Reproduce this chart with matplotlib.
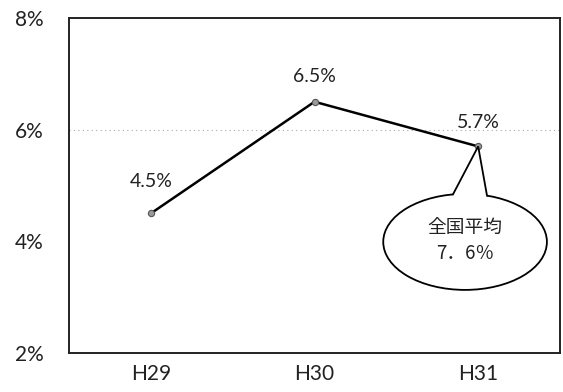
import numpy as np
import matplotlib
matplotlib.use('Agg')
import matplotlib.pyplot as plt
from matplotlib.patches import Ellipse, Polygon

plt.rcParams['font.family'] = ['Lato', 'DejaVu Sans']

years = ['H29', 'H30', 'H31']
rates = [4.5, 6.5, 5.7]
rate_labels = ['4.5%', '6.5%', '5.7%']
yticks = [2, 4, 6, 8]
national_avg_text = '全国平均\n7．6％'

fig = plt.figure(figsize=(5.63, 3.92), dpi=100)
ax = fig.add_axes([69 / 563, 39 / 392, 491 / 563, 335 / 392])

x = list(range(len(years)))
ax.plot(x, rates, color='black', lw=1.8, zorder=3,
        marker='o', ms=4.5, mfc='#9a9a9a', mec='#555555', mew=0.8)

# only the 6% grid line is visible in the original
ax.axhline(6, color='#a8a8a8', lw=0.8, ls=(0, (1, 3)), zorder=1)

offsets = [23, 18, 17]
for xi, v, lab, off in zip(x, rates, rate_labels, offsets):
    ax.annotate(lab, (xi, v), xytext=(0, off), textcoords='offset points',
                ha='center', va='center', fontsize=14, color='#222222')

ax.set_xlim(-0.5, 2.5)
ax.set_ylim(2, 8)
ax.set_xticks(x)
ax.set_xticklabels(years)
ax.set_yticks(yticks)
ax.set_yticklabels([f'{t}%' for t in yticks])
ax.tick_params(length=0, labelsize=15, labelcolor='#222222')
ax.tick_params(axis='y', pad=18)
ax.tick_params(axis='x', pad=8)
for s in ax.spines.values():
    s.set_linewidth(1.4)
    s.set_color('#222222')

# callout balloon for the national average, pointing at the H31 point
tip = (x[2], rates[2])
cx, cy, w, h = 1.92, 3.99, 1.0, 1.72
ax.add_patch(Ellipse((cx, cy), w, h, facecolor='white', edgecolor='black',
                     lw=1.3, zorder=5))


def on_ellipse(xb):
    c = (xb - cx) / (w / 2)
    return (xb, cy + h / 2 * np.sqrt(1 - c ** 2))


bl, br = on_ellipse(1.846), on_ellipse(2.054)
ax.add_patch(Polygon([(bl[0], bl[1] - 0.12), bl, tip, br, (br[0], br[1] - 0.12)],
                     closed=True, facecolor='white', edgecolor='none', zorder=6))
ax.plot([bl[0], tip[0], br[0]], [bl[1], tip[1], br[1]], color='black', lw=1.3,
        zorder=7, solid_joinstyle='miter')
ax.text(cx, cy + 0.02, national_avg_text, ha='center', va='center', fontsize=13.5,
        linespacing=1.25, family=['Noto Sans CJK JP', 'DejaVu Sans'], zorder=8,
        color='#222222')

fig.savefig('out.png', dpi=100)
